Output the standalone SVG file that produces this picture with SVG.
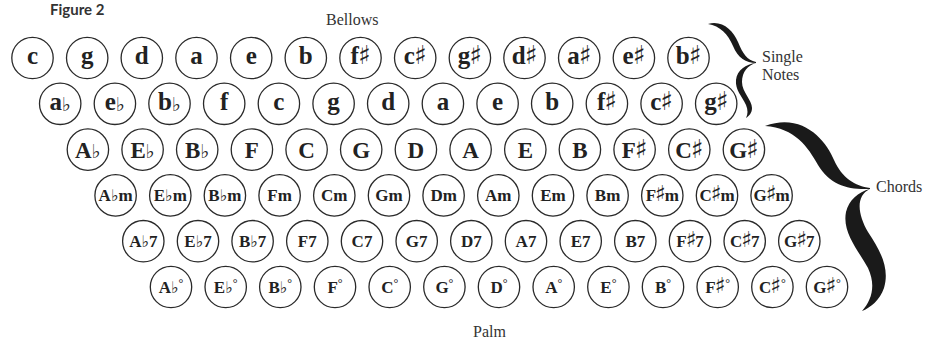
<svg xmlns="http://www.w3.org/2000/svg" width="941" height="340" viewBox="0 0 941 340">
<style>
.k circle{fill:#fff;stroke:#2a2a2a;stroke-width:1.3}
.k text{font-family:"Liberation Serif",serif;font-weight:bold;fill:#222;text-anchor:middle}
.r1 text,.r2 text{font-size:25px}
.r3 text{font-size:23px}
.r4 text,.r5 text,.r6 text{font-size:17px}
.sh,.fl{font-family:"DejaVu Sans",sans-serif;font-weight:normal}
.r1 .sh,.r2 .sh,.r3 .sh{font-size:26px}
.r4 .sh,.r5 .sh,.r6 .sh{font-size:22px}
.r2 .fl,.r3 .fl{font-size:19px}
.r4 .fl,.r5 .fl,.r6 .fl{font-size:16px}
.dg{font-weight:normal;font-size:12px}
.lbl{font-family:"Liberation Serif",serif;font-size:16px;fill:#333}
.brace{fill:#1a1a1a}
</style>
<text x="50" y="15" style="font-family:Lato,sans-serif;font-weight:bold;font-size:15px;fill:#333">Figure 2</text>
<text class="lbl" x="326" y="25">Bellows</text>
<text class="lbl" x="762" y="62">Single</text>
<text class="lbl" x="762" y="80">Notes</text>
<text class="lbl" x="876" y="192">Chords</text>
<text class="lbl" x="473" y="337">Palm</text>
<g id="braces">
<path class="brace" d="M708,24 C722,20 733,30 738,42 C743,54 747,60 756,62 L756,63 C746,63 738,58 733,46 C728,34 720,26 708,24 Z"/>
<path class="brace" d="M756,63 C748,65 742,72 742,82 C742,92 752,100 752,108 C752,113 749,116 746,118 C748,114 748,110 746,105 C742,96 735,90 736,80 C737,70 746,64 756,63 Z"/>
<path class="brace" d="M765,126 C802,112 826,140 834,160 C842,178 855,186 870,188 L870,189 C848,190 830,185 818,165 C808,147 795,128 765,126 Z"/>
<path class="brace" d="M870,189 C855,196 858,215 868,232 C880,250 890,268 884,288 C880,300 870,308 862,311 C872,300 876,285 868,268 C858,250 842,232 846,212 C849,200 858,192 870,189 Z"/>
</g>
<g id="row1" class="k r1">
<g id="n1-c" transform="translate(32.5,58)"><circle r="20.7"/><text y="6">c</text></g>
<g id="n1-g" transform="translate(87.2,58)"><circle r="20.7"/><text y="6">g</text></g>
<g id="n1-d" transform="translate(141.8,58)"><circle r="20.7"/><text y="6">d</text></g>
<g id="n1-a" transform="translate(196.5,58)"><circle r="20.7"/><text y="6">a</text></g>
<g id="n1-e" transform="translate(251.2,58)"><circle r="20.7"/><text y="6">e</text></g>
<g id="n1-b" transform="translate(305.8,58)"><circle r="20.7"/><text y="6">b</text></g>
<g id="n1-fs" transform="translate(360.5,58)"><circle r="20.7"/><text y="6">f<tspan class="sh" dx="-1">♯</tspan></text></g>
<g id="n1-cs" transform="translate(415.2,58)"><circle r="20.7"/><text y="6">c<tspan class="sh" dx="-1">♯</tspan></text></g>
<g id="n1-gs" transform="translate(469.9,58)"><circle r="20.7"/><text y="6">g<tspan class="sh" dx="-1">♯</tspan></text></g>
<g id="n1-ds" transform="translate(524.5,58)"><circle r="20.7"/><text y="6">d<tspan class="sh" dx="-1">♯</tspan></text></g>
<g id="n1-as" transform="translate(579.2,58)"><circle r="20.7"/><text y="6">a<tspan class="sh" dx="-1">♯</tspan></text></g>
<g id="n1-es" transform="translate(633.9,58)"><circle r="20.7"/><text y="6">e<tspan class="sh" dx="-1">♯</tspan></text></g>
<g id="n1-bs" transform="translate(688.5,58)"><circle r="20.7"/><text y="6">b<tspan class="sh" dx="-1">♯</tspan></text></g>
</g>
<g id="row2" class="k r2">
<g id="n2-ab" transform="translate(60.2,103.8)"><circle r="20.7"/><text y="6">a<tspan class="fl" dy="1">♭</tspan></text></g>
<g id="n2-eb" transform="translate(114.9,103.8)"><circle r="20.7"/><text y="6">e<tspan class="fl" dy="1">♭</tspan></text></g>
<g id="n2-bb" transform="translate(169.5,103.8)"><circle r="20.7"/><text y="6">b<tspan class="fl" dy="1">♭</tspan></text></g>
<g id="n2-f" transform="translate(224.2,103.8)"><circle r="20.7"/><text y="6">f</text></g>
<g id="n2-c" transform="translate(278.9,103.8)"><circle r="20.7"/><text y="6">c</text></g>
<g id="n2-g" transform="translate(333.6,103.8)"><circle r="20.7"/><text y="6">g</text></g>
<g id="n2-d" transform="translate(388.2,103.8)"><circle r="20.7"/><text y="6">d</text></g>
<g id="n2-a" transform="translate(442.9,103.8)"><circle r="20.7"/><text y="6">a</text></g>
<g id="n2-e" transform="translate(497.6,103.8)"><circle r="20.7"/><text y="6">e</text></g>
<g id="n2-b" transform="translate(552.2,103.8)"><circle r="20.7"/><text y="6">b</text></g>
<g id="n2-fs" transform="translate(606.9,103.8)"><circle r="20.7"/><text y="6">f<tspan class="sh" dx="-1">♯</tspan></text></g>
<g id="n2-cs" transform="translate(661.6,103.8)"><circle r="20.7"/><text y="6">c<tspan class="sh" dx="-1">♯</tspan></text></g>
<g id="n2-gs" transform="translate(716.2,103.8)"><circle r="20.7"/><text y="6">g<tspan class="sh" dx="-1">♯</tspan></text></g>
</g>
<g id="row3" class="k r3">
<g id="n3-Ab" transform="translate(87.9,149.6)"><circle r="20.7"/><text y="8">A<tspan class="fl">♭</tspan></text></g>
<g id="n3-Eb" transform="translate(142.6,149.6)"><circle r="20.7"/><text y="8">E<tspan class="fl">♭</tspan></text></g>
<g id="n3-Bb" transform="translate(197.2,149.6)"><circle r="20.7"/><text y="8">B<tspan class="fl">♭</tspan></text></g>
<g id="n3-F" transform="translate(251.9,149.6)"><circle r="20.7"/><text y="8">F</text></g>
<g id="n3-C" transform="translate(306.6,149.6)"><circle r="20.7"/><text y="8">C</text></g>
<g id="n3-G" transform="translate(361.2,149.6)"><circle r="20.7"/><text y="8">G</text></g>
<g id="n3-D" transform="translate(415.9,149.6)"><circle r="20.7"/><text y="8">D</text></g>
<g id="n3-A" transform="translate(470.6,149.6)"><circle r="20.7"/><text y="8">A</text></g>
<g id="n3-E" transform="translate(525.3,149.6)"><circle r="20.7"/><text y="8">E</text></g>
<g id="n3-B" transform="translate(579.9,149.6)"><circle r="20.7"/><text y="8">B</text></g>
<g id="n3-Fs" transform="translate(634.6,149.6)"><circle r="20.7"/><text y="8">F<tspan class="sh" dx="-1">♯</tspan></text></g>
<g id="n3-Cs" transform="translate(689.3,149.6)"><circle r="20.7"/><text y="8">C<tspan class="sh" dx="-1">♯</tspan></text></g>
<g id="n3-Gs" transform="translate(743.9,149.6)"><circle r="20.7"/><text y="8">G<tspan class="sh" dx="-1">♯</tspan></text></g>
</g>
<g id="row4" class="k r4">
<g id="n4-Abm" transform="translate(115.6,195.4)"><circle r="20.7"/><text y="6">A<tspan class="fl">♭</tspan>m</text></g>
<g id="n4-Ebm" transform="translate(170.3,195.4)"><circle r="20.7"/><text y="6">E<tspan class="fl">♭</tspan>m</text></g>
<g id="n4-Bbm" transform="translate(224.9,195.4)"><circle r="20.7"/><text y="6">B<tspan class="fl">♭</tspan>m</text></g>
<g id="n4-Fm" transform="translate(279.6,195.4)"><circle r="20.7"/><text y="6">Fm</text></g>
<g id="n4-Cm" transform="translate(334.3,195.4)"><circle r="20.7"/><text y="6">Cm</text></g>
<g id="n4-Gm" transform="translate(389,195.4)"><circle r="20.7"/><text y="6">Gm</text></g>
<g id="n4-Dm" transform="translate(443.6,195.4)"><circle r="20.7"/><text y="6">Dm</text></g>
<g id="n4-Am" transform="translate(498.3,195.4)"><circle r="20.7"/><text y="6">Am</text></g>
<g id="n4-Em" transform="translate(553,195.4)"><circle r="20.7"/><text y="6">Em</text></g>
<g id="n4-Bm" transform="translate(607.6,195.4)"><circle r="20.7"/><text y="6">Bm</text></g>
<g id="n4-Fsm" transform="translate(662.3,195.4)"><circle r="20.7"/><text y="6">F<tspan class="sh" dx="-1">♯</tspan><tspan dx="-1">m</tspan></text></g>
<g id="n4-Csm" transform="translate(717,195.4)"><circle r="20.7"/><text y="6">C<tspan class="sh" dx="-1">♯</tspan><tspan dx="-1">m</tspan></text></g>
<g id="n4-Gsm" transform="translate(771.6,195.4)"><circle r="20.7"/><text y="6">G<tspan class="sh" dx="-1">♯</tspan><tspan dx="-1">m</tspan></text></g>
</g>
<g id="row5" class="k r5">
<g id="n5-Ab7" transform="translate(143.3,241.2)"><circle r="20.7"/><text y="6">A<tspan class="fl">♭</tspan>7</text></g>
<g id="n5-Eb7" transform="translate(198,241.2)"><circle r="20.7"/><text y="6">E<tspan class="fl">♭</tspan>7</text></g>
<g id="n5-Bb7" transform="translate(252.6,241.2)"><circle r="20.7"/><text y="6">B<tspan class="fl">♭</tspan>7</text></g>
<g id="n5-F7" transform="translate(307.3,241.2)"><circle r="20.7"/><text y="6">F7</text></g>
<g id="n5-C7" transform="translate(362,241.2)"><circle r="20.7"/><text y="6">C7</text></g>
<g id="n5-G7" transform="translate(416.7,241.2)"><circle r="20.7"/><text y="6">G7</text></g>
<g id="n5-D7" transform="translate(471.3,241.2)"><circle r="20.7"/><text y="6">D7</text></g>
<g id="n5-A7" transform="translate(526,241.2)"><circle r="20.7"/><text y="6">A7</text></g>
<g id="n5-E7" transform="translate(580.7,241.2)"><circle r="20.7"/><text y="6">E7</text></g>
<g id="n5-B7" transform="translate(635.3,241.2)"><circle r="20.7"/><text y="6">B7</text></g>
<g id="n5-Fs7" transform="translate(690,241.2)"><circle r="20.7"/><text y="6">F<tspan class="sh" dx="-1">♯</tspan><tspan dx="-1">7</tspan></text></g>
<g id="n5-Cs7" transform="translate(744.7,241.2)"><circle r="20.7"/><text y="6">C<tspan class="sh" dx="-1">♯</tspan><tspan dx="-1">7</tspan></text></g>
<g id="n5-Gs7" transform="translate(799.3,241.2)"><circle r="20.7"/><text y="6">G<tspan class="sh" dx="-1">♯</tspan><tspan dx="-1">7</tspan></text></g>
</g>
<g id="row6" class="k r6">
<g id="n6-Abd" transform="translate(171,287)"><circle r="20.7"/><text y="6">A<tspan class="fl">♭</tspan><tspan class="dg" dy="-6">°</tspan></text></g>
<g id="n6-Ebd" transform="translate(225.7,287)"><circle r="20.7"/><text y="6">E<tspan class="fl">♭</tspan><tspan class="dg" dy="-6">°</tspan></text></g>
<g id="n6-Bbd" transform="translate(280.3,287)"><circle r="20.7"/><text y="6">B<tspan class="fl">♭</tspan><tspan class="dg" dy="-6">°</tspan></text></g>
<g id="n6-Fd" transform="translate(335,287)"><circle r="20.7"/><text y="6">F<tspan class="dg" dy="-6">°</tspan></text></g>
<g id="n6-Cd" transform="translate(389.7,287)"><circle r="20.7"/><text y="6">C<tspan class="dg" dy="-6">°</tspan></text></g>
<g id="n6-Gd" transform="translate(444.4,287)"><circle r="20.7"/><text y="6">G<tspan class="dg" dy="-6">°</tspan></text></g>
<g id="n6-Dd" transform="translate(499,287)"><circle r="20.7"/><text y="6">D<tspan class="dg" dy="-6">°</tspan></text></g>
<g id="n6-Ad" transform="translate(553.7,287)"><circle r="20.7"/><text y="6">A<tspan class="dg" dy="-6">°</tspan></text></g>
<g id="n6-Ed" transform="translate(608.4,287)"><circle r="20.7"/><text y="6">E<tspan class="dg" dy="-6">°</tspan></text></g>
<g id="n6-Bd" transform="translate(663,287)"><circle r="20.7"/><text y="6">B<tspan class="dg" dy="-6">°</tspan></text></g>
<g id="n6-Fsd" transform="translate(717.7,287)"><circle r="20.7"/><text y="6">F<tspan class="sh" dx="-1">♯</tspan><tspan class="dg" dy="-6">°</tspan></text></g>
<g id="n6-Csd" transform="translate(772.4,287)"><circle r="20.7"/><text y="6">C<tspan class="sh" dx="-1">♯</tspan><tspan class="dg" dy="-6">°</tspan></text></g>
<g id="n6-Gsd" transform="translate(827,287)"><circle r="20.7"/><text y="6">G<tspan class="sh" dx="-1">♯</tspan><tspan class="dg" dy="-6">°</tspan></text></g>
</g>
</svg>
